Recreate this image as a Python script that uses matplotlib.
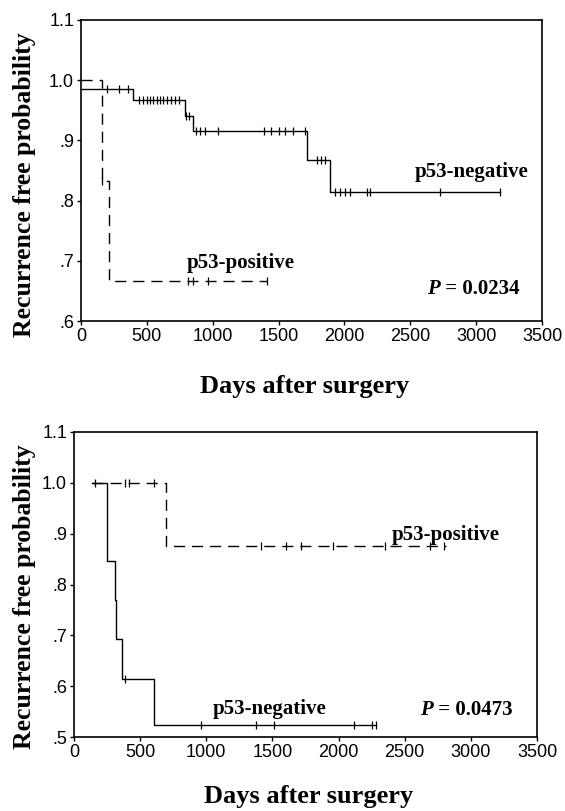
import matplotlib
matplotlib.use("Agg")
import matplotlib.pyplot as plt
import numpy as np

# --- top panel: p53-negative (solid) / p53-positive (dashed) ---
top_neg_times = [0, 395, 790, 850, 1715, 1890, 3184]
top_neg_surv = [0.985, 0.967, 0.941, 0.915, 0.868, 0.815, 0.815]
top_neg_cens = [200, 290, 355, 440, 470, 500, 525, 550, 575, 600, 625, 650, 680, 710, 745,
                800, 820, 870, 900, 940, 1040, 1390, 1440, 1500, 1550, 1610, 1700,
                1792, 1822, 1855, 1931, 1969, 2007, 2045, 2172, 2197, 2728, 3184]

top_pos_times = [0, 160, 212, 1415]
top_pos_surv = [1.0, 0.833, 0.667, 0.667]
top_pos_cens = [160, 812, 853, 963, 1415]

# --- bottom panel ---
bot_neg_times = [138, 247, 252, 309, 318, 361, 608, 2283]
bot_neg_surv = [1.0, 0.923, 0.846, 0.769, 0.692, 0.615, 0.523, 0.523]
bot_neg_cens = [157, 383, 958, 1373, 1509, 2120, 2256, 2283]

bot_pos_times = [138, 695, 2812]
bot_pos_surv = [1.0, 0.875, 0.875]
bot_pos_cens = [383, 415, 608, 1414, 1604, 1713, 1957, 2351, 2690, 2799]

x_ticks = [0, 500, 1000, 1500, 2000, 2500, 3000, 3500]
top_yticks = [.6, .7, .8, .9, 1.0, 1.1]
top_ylabels = ['.6', '.7', '.8', '.9', '1.0', '1.1']
bot_yticks = [.5, .6, .7, .8, .9, 1.0, 1.1]
bot_ylabels = ['.5', '.6', '.7', '.8', '.9', '1.0', '1.1']

serif = 'Liberation Serif'
sans = 'Liberation Sans'


def km(ax, times, surv, cens, ls):
    ax.step(times, surv, where='post', color='black', lw=1.0, ls=ls,
            dashes=(8, 5) if ls == '--' else (None, None))
    t = np.array(times)
    s = np.array(surv)
    idx = np.searchsorted(t, cens, side='right') - 1
    ax.plot(cens, s[idx], ls='none', marker='|', ms=6, mew=0.9, color='black')


def style(ax, yticks, ylabels, ylim):
    ax.set_xlim(0, 3500)
    ax.set_ylim(*ylim)
    ax.set_xticks(x_ticks)
    ax.set_xticklabels([str(v) for v in x_ticks], fontfamily=sans, fontsize=13)
    ax.set_yticks(yticks)
    ax.set_yticklabels(ylabels, fontfamily=sans, fontsize=13)
    ax.tick_params(direction='out', length=3, width=1, pad=2)
    for sp in ax.spines.values():
        sp.set_linewidth(1.2)


fig = plt.figure(figsize=(5.65, 8.11), dpi=100)

ax1 = fig.add_axes([81/565, 1-321/811, 461/565, 301/811])
km(ax1, top_neg_times, top_neg_surv, top_neg_cens, '-')
km(ax1, top_pos_times, top_pos_surv, top_pos_cens, '--')
style(ax1, top_yticks, top_ylabels, (0.6, 1.1))
ax1.text(2534, 0.847, 'p53-negative', fontfamily=serif, fontweight='bold', fontsize=15, va='center')
ax1.text(806, 0.697, 'p53-positive', fontfamily=serif, fontweight='bold', fontsize=15, va='center')
t1 = ax1.text(3330, 0.653, ' = 0.0234', fontfamily=serif, fontweight='bold', fontsize=15,
              va='center', ha='right')
ax1.annotate('P', xy=(0, 0.5), xycoords=t1, ha='right', va='center', fontfamily=serif,
             fontweight='bold', fontstyle='italic', fontsize=15)

ax2 = fig.add_axes([74/565, 1-737/811, 463/565, 305/811])
km(ax2, bot_neg_times, bot_neg_surv, bot_neg_cens, '-')
km(ax2, bot_pos_times, bot_pos_surv, bot_pos_cens, '--')
style(ax2, bot_yticks, bot_ylabels, (0.5, 1.1))
ax2.text(2405, 0.897, 'p53-positive', fontfamily=serif, fontweight='bold', fontsize=15, va='center')
ax2.text(1048, 0.556, 'p53-negative', fontfamily=serif, fontweight='bold', fontsize=15, va='center')
t2 = ax2.text(3314, 0.553, ' = 0.0473', fontfamily=serif, fontweight='bold', fontsize=15,
              va='center', ha='right')
ax2.annotate('P', xy=(0, 0.5), xycoords=t2, ha='right', va='center', fontfamily=serif,
             fontweight='bold', fontstyle='italic', fontsize=15)

# axis titles
for yc in (1-185/811, 1-597/811):
    fig.text(25/565, yc, 'Recurrence free probability', rotation=90, ha='center', va='center',
             fontfamily=serif, fontweight='bold', fontsize=18.5)
fig.text(305/565, 1-387/811, 'Days after surgery', ha='center', va='center',
         fontfamily=serif, fontweight='bold', fontsize=19)
fig.text(309/565, 1-797/811, 'Days after surgery', ha='center', va='center',
         fontfamily=serif, fontweight='bold', fontsize=19)

fig.savefig('out.png', dpi=100)
